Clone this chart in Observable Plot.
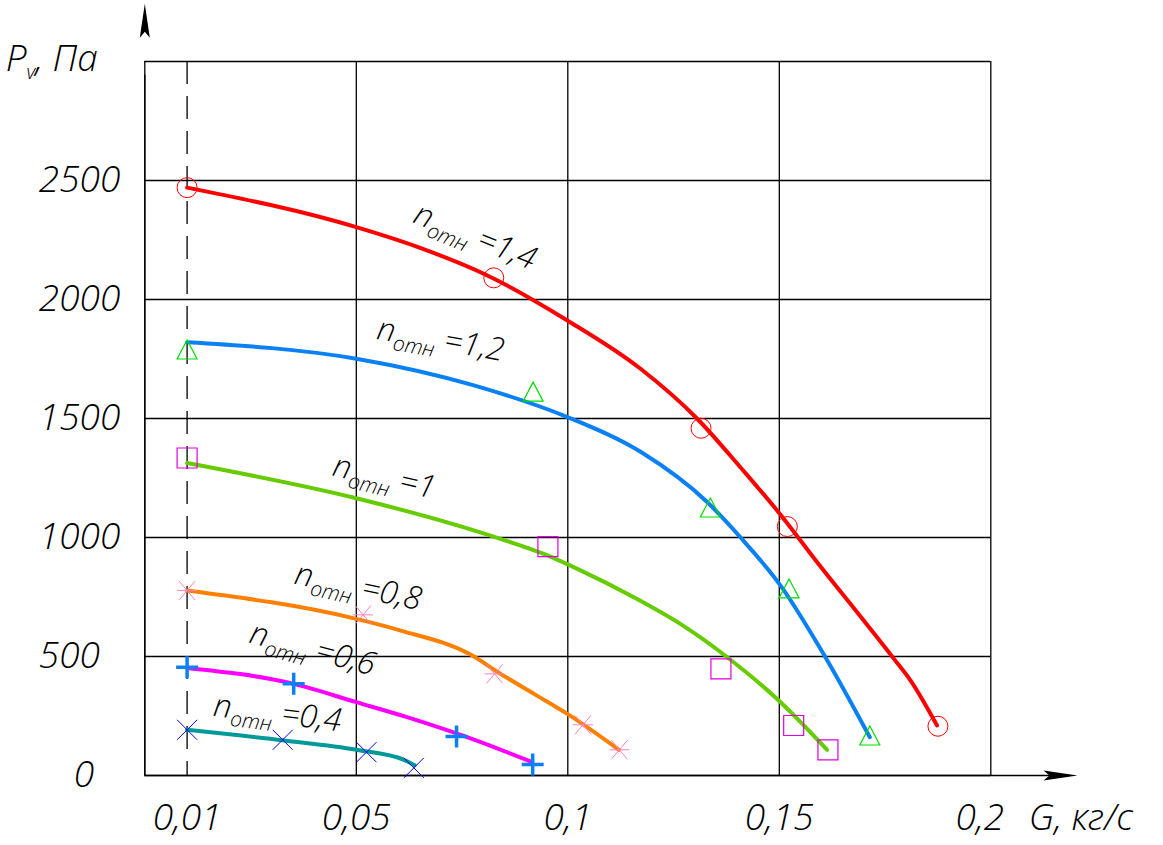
<!DOCTYPE html>
<html><head><meta charset="utf-8">
<script src="https://cdn.jsdelivr.net/npm/d3@7"></script>
<script src="https://cdn.jsdelivr.net/npm/@observablehq/plot@0.6"></script>
<style>
body{margin:0;background:#fff;}
#chart svg{display:block;}
#chart svg text{font-family:"Open Sans","Noto Sans",Roboto,sans-serif;font-weight:300;font-style:italic;}
</style></head><body><div id="chart"></div>
<script>
// ---------- data ----------
const G14 = [0.010, 0.050, 0.0646, 0.081, 0.0999, 0.1172, 0.1306, 0.1408, 0.1501, 0.159, 0.170, 0.1771, 0.181, 0.1873];
const P14 = [2470, 2304, 2220, 2101, 1912, 1709, 1499, 1295, 1100, 895, 650, 490, 400, 210];
const G12 = [0.010, 0.050, 0.0778, 0.0999, 0.1172, 0.133, 0.1408, 0.1503, 0.1609, 0.1714];
const P12 = [1820, 1751, 1639, 1506, 1360, 1148, 1001, 798, 497, 161];
const G10 = [0.010, 0.050, 0.0817, 0.0943, 0.103, 0.1156, 0.1266, 0.1377, 0.1503, 0.1613];
const P10 = [1313, 1165, 1008, 931, 862, 749, 637, 497, 308, 108];
const G08 = [0.010, 0.050, 0.0605, 0.077, 0.0841, 0.092, 0.0999, 0.1121];
const P08 = [777, 658, 609, 508, 427, 343, 259, 108];
const G06 = [0.010, 0.0352, 0.050, 0.062, 0.0762, 0.0916];
const P06 = [452, 385, 308, 245, 161, 56];
const G04 = [0.010, 0.0329, 0.050, 0.0613, 0.0638];
const P04 = [192, 147, 108, 66, 43];

// measured points (markers)
const mG14 = [0.010, 0.0825, 0.1315, 0.1519, 0.1875];
const mP14 = [2470, 2091, 1459, 1046, 207];
const mG12 = [0.010, 0.0918, 0.1337, 0.1523, 0.1714];
const mP12 = [1790, 1613, 1126, 786, 168];
const mG10 = [0.010, 0.0953, 0.1362, 0.1534, 0.1615];
const mP10 = [1334, 962, 448, 210, 108];
const mG08 = [0.010, 0.0516, 0.0827, 0.1036, 0.1122];
const mP08 = [777, 675, 427, 213, 108];
const mG06 = [0.010, 0.0352, 0.0737, 0.0917];
const mP06 = [455, 385, 164, 46];
const mG04 = [0.010, 0.0326, 0.0524, 0.0636];
const mP04 = [192, 150, 98, 32];

const curveNames = ["1,4", "1,2", "1", "0,8", "0,6", "0,4"];

const xGrid = [0, 0.05, 0.1, 0.15, 0.2];
const yGrid = [0, 500, 1000, 1500, 2000, 2500, 3000];
const xTicks = [0.01, 0.05, 0.1, 0.15, 0.2];
const xTickLabels = ["0,01", "0,05", "0,1", "0,15", "0,2"];
const yTicks = [0, 500, 1000, 1500, 2000, 2500];
const yTickLabels = ["0", "500", "1000", "1500", "2000", "2500"];
const xTitle = "G, кг/с";
const yTitle = "Pv, Па";
const xAxisEnd = 0.2205;
const yAxisEnd = 3243;

// ---------- helpers ----------
const rows = (G, P) => G.map((g, i) => ({G: g, P: P[i]}));

const sym = fn => ({draw(c, size) { const h = Math.sqrt(size / Math.PI); fn(c, h); }});
const symCircle = sym((c, h) => { c.moveTo(h, 0); c.arc(0, 0, h, 0, 2 * Math.PI); });
const symTriangle = sym((c, h) => { c.moveTo(0, -0.95 * h); c.lineTo(h, 0.95 * h); c.lineTo(-h, 0.95 * h); c.closePath(); });
const symSquare = sym((c, h) => { c.rect(-h, -h, 2 * h, 2 * h); });
const symAsterisk = sym((c, h) => { c.moveTo(-h, 0); c.lineTo(h, 0); c.moveTo(-0.8 * h, -0.95 * h); c.lineTo(0.8 * h, 0.95 * h); c.moveTo(-0.8 * h, 0.95 * h); c.lineTo(0.8 * h, -0.95 * h); });
const symPlus = sym((c, h) => { c.moveTo(-h, 0); c.lineTo(h, 0); c.moveTo(0, -h); c.lineTo(0, h); });
const symTimes = sym((c, h) => { c.moveTo(-h, -h); c.lineTo(h, h); c.moveTo(-h, h); c.lineTo(h, -h); });
const symArrowRight = {draw(c) { c.moveTo(0, 0); c.lineTo(-34, -5); c.lineTo(-28, 0); c.lineTo(-34, 5); c.closePath(); }};
const symArrowUp = {draw(c) { c.moveTo(0, 0); c.lineTo(-5, 34); c.lineTo(0, 28); c.lineTo(5, 34); c.closePath(); }};

const curves = [
  {data: rows(G14, P14), color: "#ff0000"},
  {data: rows(G12, P12), color: "#0a80f5"},
  {data: rows(G10, P10), color: "#66cc00"},
  {data: rows(G08, P08), color: "#ff8000"},
  {data: rows(G06, P06), color: "#ff00ff"},
  {data: rows(G04, P04), color: "#009999"}
];
const markers = [
  {data: rows(mG14, mP14), symbol: symCircle, color: "#ff0000", r: 10, w: 1},
  {data: rows(mG12, mP12), symbol: symTriangle, color: "#00dd00", r: 10, w: 1.2},
  {data: rows(mG10, mP10), symbol: symSquare, color: "#e000e0", r: 10, w: 1.2},
  {data: rows(mG08, mP08), symbol: symAsterisk, color: "#ff80c0", r: 10, w: 1},
  {data: rows(mG06, mP06), symbol: symPlus, color: "#0a80f5", r: 11, w: 3.5},
  {data: rows(mG04, mP04), symbol: symTimes, color: "#0000ee", r: 10, w: 1}
];
// label placement (start of text, rotation)
const labelPlace = [
  {G: 0.0640, P: 2366, a: 22},
  {G: 0.0550, P: 1878, a: 10},
  {G: 0.0446, P: 1303, a: 13},
  {G: 0.0356, P: 849, a: 12},
  {G: 0.0250, P: 601, a: 15},
  {G: 0.0163, P: 294, a: 7}
];
const labelRows = curveNames.map((n, i) => ({text: "nотн =" + n, ...labelPlace[i]}));

const txt = {fill: "black"};
const TICK = 37;

const svg = Plot.plot({
  width: 1163, height: 845,
  marginLeft: 144.3, marginRight: 172.7, marginTop: 61, marginBottom: 70,
  x: {domain: [0, 0.2], axis: null},
  y: {domain: [0, 3000], axis: null},
  marks: [
    Plot.ruleX(xGrid, {stroke: "black", strokeWidth: 1.3}),
    Plot.ruleY(yGrid, {stroke: "black", strokeWidth: 1.3}),
    Plot.ruleX([0.01], {stroke: "black", strokeWidth: 1.3, strokeDasharray: "23,12"}),
    Plot.ruleX([0], {y1: 0, y2: yAxisEnd - 300, stroke: "black", strokeWidth: 1.3}),
    Plot.ruleY([0], {x1: 0, x2: xAxisEnd - 0.005, stroke: "black", strokeWidth: 1.3}),
    Plot.dot([{G: 0, P: yAxisEnd}], {x: "G", y: "P", symbol: symArrowUp, fill: "black", stroke: "none", r: 1}),
    Plot.dot([{G: xAxisEnd, P: 0}], {x: "G", y: "P", symbol: symArrowRight, fill: "black", stroke: "none", r: 1}),
    ...curves.map(c => Plot.line(c.data, {x: "G", y: "P", stroke: c.color, strokeWidth: 4, curve: "monotone-x"})),
    ...markers.map(m => Plot.dot(m.data, {x: "G", y: "P", symbol: m.symbol, r: m.r, fill: "none", stroke: m.color, strokeWidth: m.w})),
    Plot.text(labelRows, {x: "G", y: "P", text: "text", rotate: "a", textAnchor: "start", lineAnchor: "middle", fontSize: 32, ...txt}),
    Plot.text(yTicks.filter(v => v > 0), {y: d => d, text: d => yTickLabels[yTicks.indexOf(d)], frameAnchor: "left", dx: -106, textAnchor: "start", lineAnchor: "middle", fontSize: TICK, ...txt}),
    Plot.text(yTicks.filter(v => v === 0), {y: d => d, text: d => yTickLabels[yTicks.indexOf(d)], frameAnchor: "left", dx: -71, textAnchor: "start", lineAnchor: "middle", fontSize: TICK, ...txt}),
    Plot.text(xTicks.filter(v => v < 0.2), {x: d => d, text: d => xTickLabels[xTicks.indexOf(d)], frameAnchor: "bottom", dy: 43, textAnchor: "middle", lineAnchor: "middle", fontSize: TICK, ...txt}),
    Plot.text(xTicks.filter(v => v === 0.2), {x: d => d, text: d => xTickLabels[xTicks.indexOf(d)], frameAnchor: "bottom", dx: -11, dy: 43, textAnchor: "middle", lineAnchor: "middle", fontSize: TICK, ...txt}),
    Plot.text([xTitle], {text: d => d, frameAnchor: "bottom-right", dx: 38, dy: 43, textAnchor: "start", lineAnchor: "middle", fontSize: TICK, ...txt}),
    Plot.text([yTitle], {text: d => d, frameAnchor: "top-left", dx: -139, dy: -2, textAnchor: "start", lineAnchor: "middle", fontSize: TICK, ...txt})
  ]
});

// subscripts as tspans
function setRich(el, parts) {
  el.textContent = "";
  for (const p of parts) {
    const ts = document.createElementNS("http://www.w3.org/2000/svg", "tspan");
    ts.textContent = p.t;
    if (p.size) ts.setAttribute("font-size", p.size);
    if (p.dy) ts.setAttribute("dy", p.dy);
    el.appendChild(ts);
  }
}
d3.select(svg).selectAll("text").each(function() {
  const t = this.textContent;
  if (t.startsWith("nотн")) {
    setRich(this, [{t: "n"}, {t: "отн", size: 21, dy: 8}, {t: " " + t.slice(5), size: 32, dy: -8}]);
  } else if (t === yTitle) {
    setRich(this, [{t: "P"}, {t: "v", size: 20, dy: 8}, {t: t.slice(2), size: TICK, dy: -8}]);
  }
});
document.getElementById("chart").appendChild(svg);
</script>
</body></html>
